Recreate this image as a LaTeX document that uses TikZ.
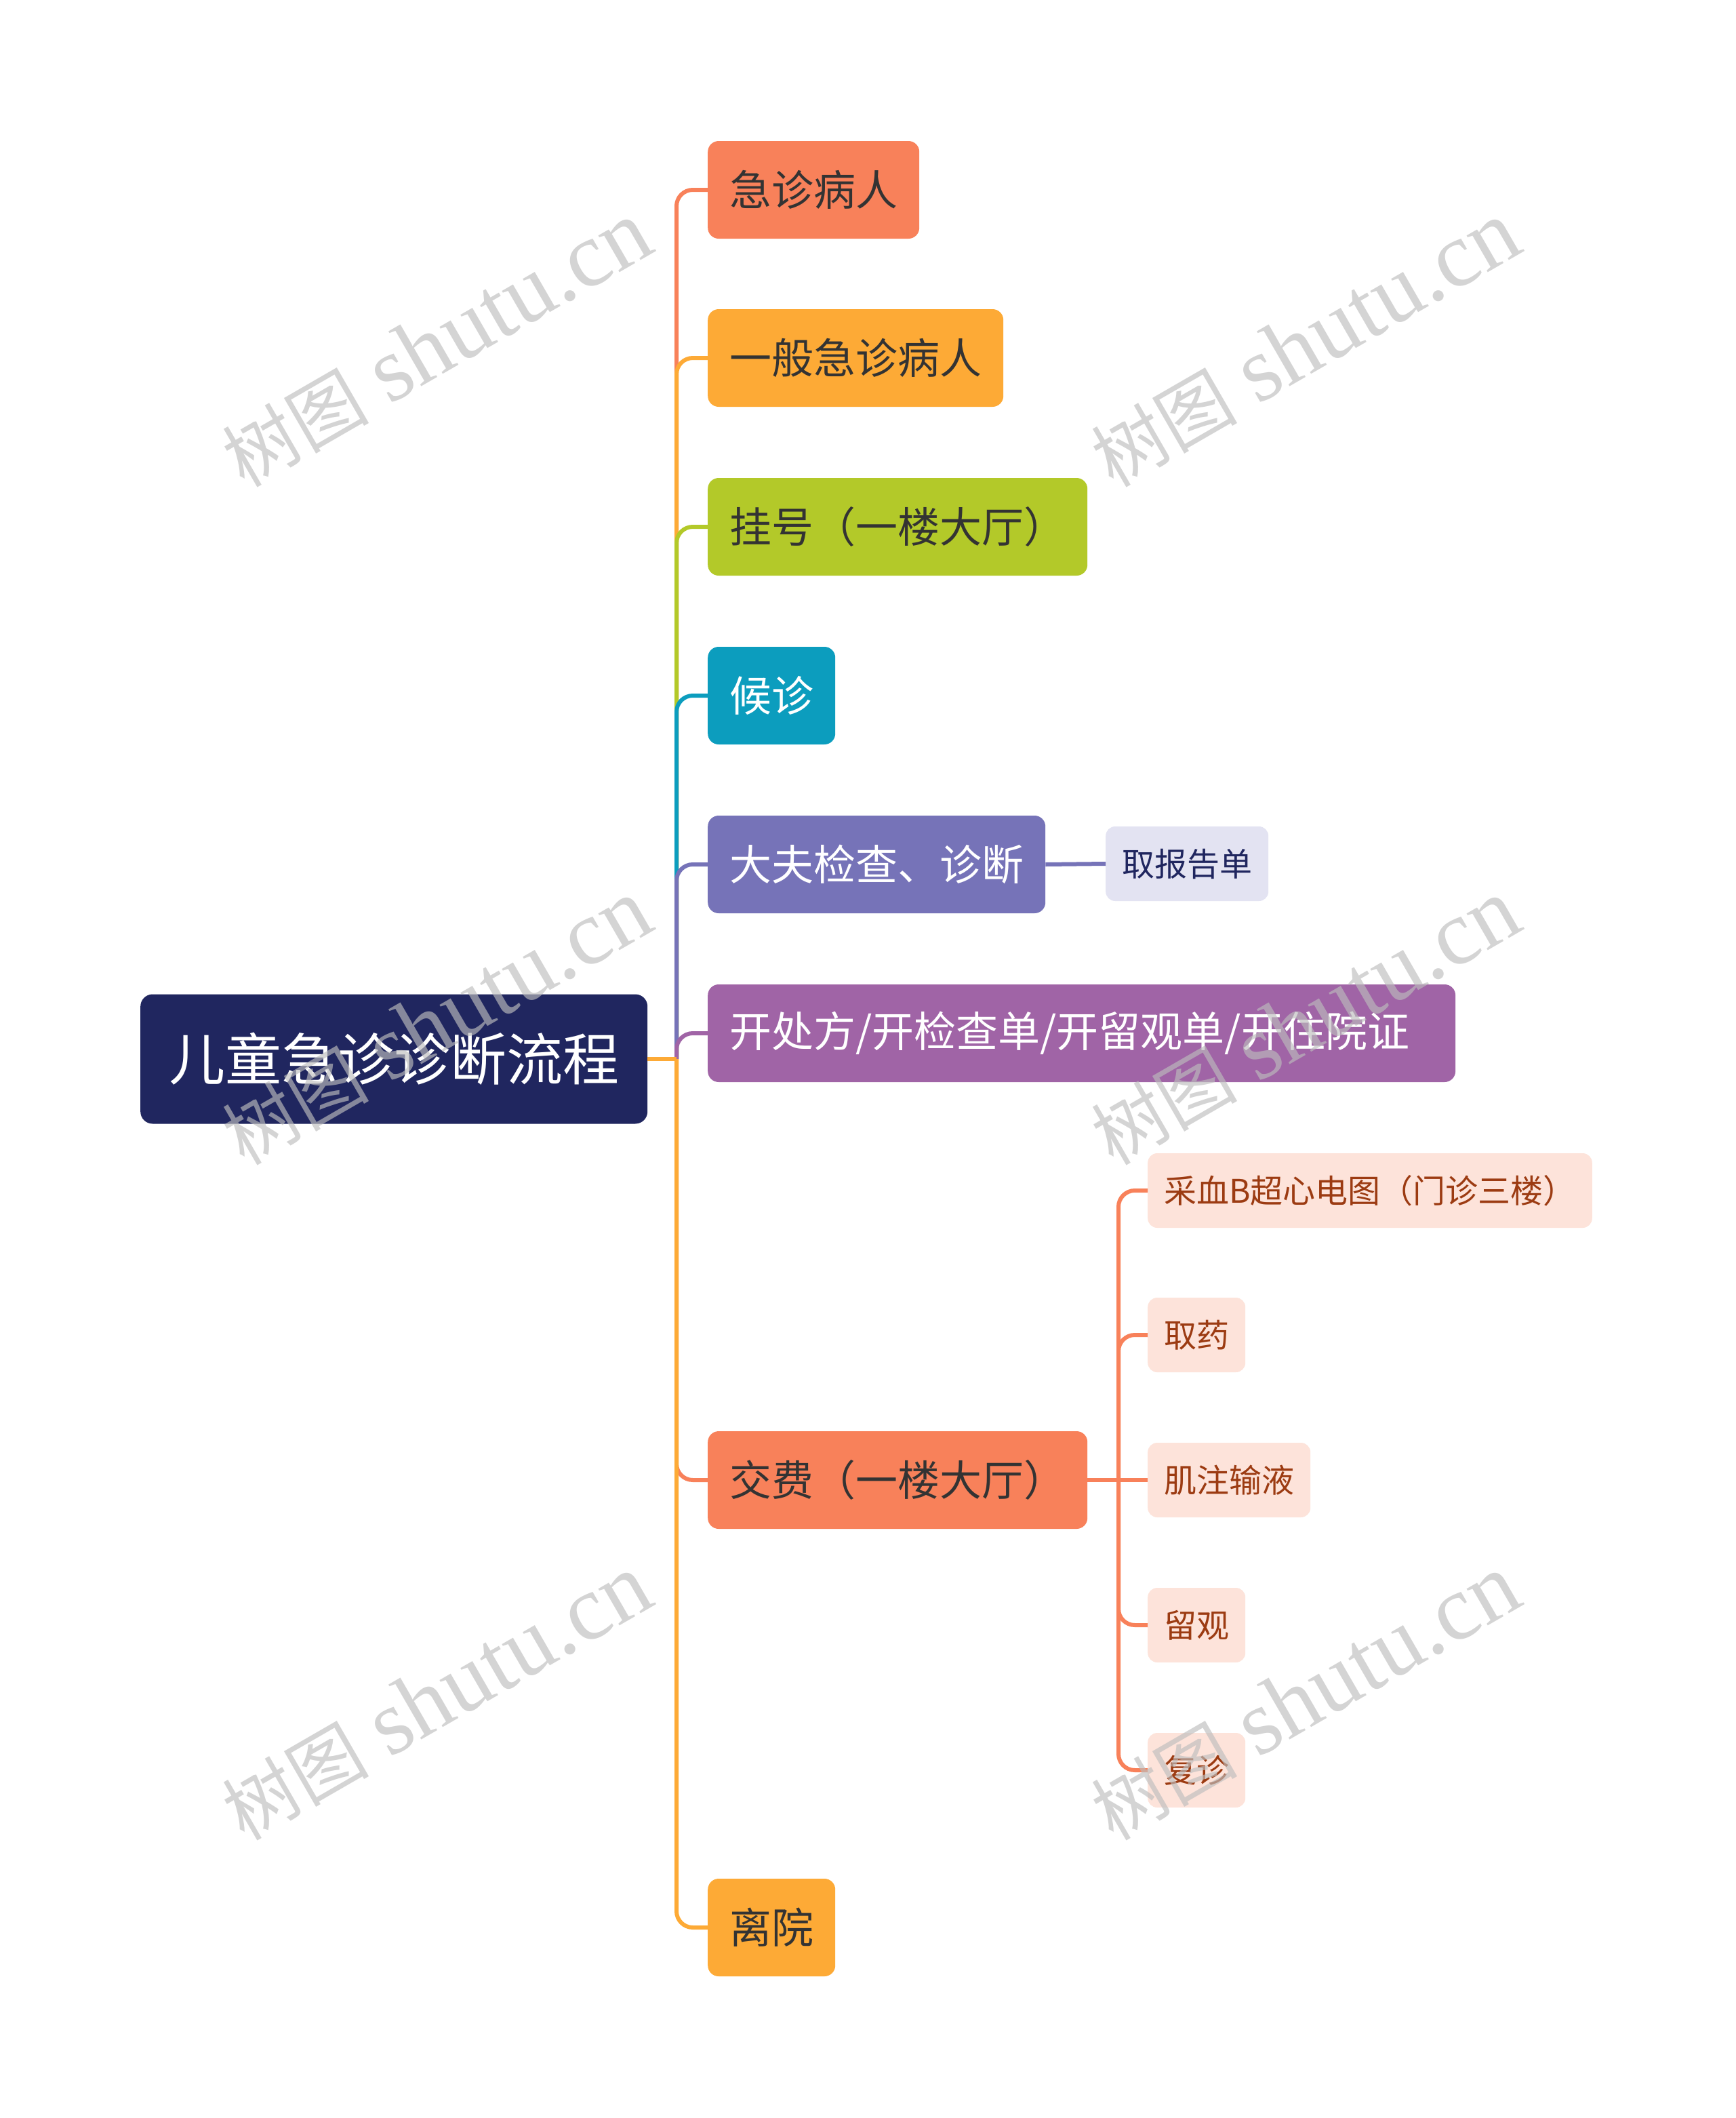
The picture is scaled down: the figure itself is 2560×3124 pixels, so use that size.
\documentclass[tikz,border=0pt]{standalone}
\usepackage{fontspec}
\setmainfont{Noto Sans CJK SC}
\newfontfamily\wmserif{Liberation Serif}
\definecolor{navy}{HTML}{20265F}
\definecolor{coral}{HTML}{F8815A}
\definecolor{amber}{HTML}{FDAA36}
\definecolor{lime}{HTML}{B3C929}
\definecolor{cteal}{HTML}{0C9DBE}
\definecolor{slate}{HTML}{7673B8}
\definecolor{plum}{HTML}{A064A6}
\definecolor{lilac}{HTML}{E3E3F2}
\definecolor{peach}{HTML}{FDE3DA}
\definecolor{rust}{HTML}{9C3B12}
\definecolor{ink}{HTML}{333333}
\definecolor{wmgray}{HTML}{BDBDBD}
\def\wm{{\fontsize{108}{108}\selectfont 树图}\hspace{30pt}{\wmserif\fontsize{136}{136}\selectfont shutu.cn}}

\begin{document}
\begin{tikzpicture}[x=1pt, y=-1pt,
    root/.style={rounded corners=18pt, fill=navy, text=white, anchor=west,
        font=\fontsize{83}{83}\selectfont, minimum height=191pt, inner xsep=42pt},
    topic/.style={rounded corners=16pt, text=ink, anchor=west,
        font=\fontsize{62}{62}\selectfont, minimum height=144pt, inner xsep=32pt},
    leaf/.style={rounded corners=14pt, fill=peach, text=rust, anchor=west,
        font=\fontsize{48}{48}\selectfont, minimum height=110pt, inner xsep=24pt},
    branch/.style={line width=6pt, rounded corners=24pt},
    wmark/.style={rotate=30, text=wmgray, opacity=0.65}]
    \fill[white] (0,0) rectangle (2560,3124);
    \useasboundingbox (0,0) rectangle (2560,3124);

    \node[root] (root) at (207,1562) {儿童急诊诊断流程};
    \node[topic, fill=coral] (n1) at (1044,280) {急诊病人};
    \node[topic, fill=amber] (n2) at (1044,528) {一般急诊病人};
    \node[topic, fill=lime] (n3) at (1044,777) {挂号（一楼大厅）};
    \node[topic, fill=cteal, text=white] (n4) at (1044,1026) {候诊};
    \node[topic, fill=slate, text=white] (n5) at (1044,1275) {大夫检查、诊断};
    \node[topic, fill=plum, text=white] (n6) at (1044,1524) {开处方/开检查单/开留观单/开住院证\hspace*{36pt}};
    \node[topic, fill=coral] (n7) at (1044,2183) {交费（一楼大厅）};
    \node[topic, fill=amber] (n8) at (1044,2843) {离院};

    \node[leaf, fill=lilac, text=navy] (r1) at (1631,1274) {取报告单};
    \node[leaf] (f1) at (1693,1756) {采血B超心电图（门诊三楼）};
    \node[leaf] (f2) at (1693,1969) {取药};
    \node[leaf] (f3) at (1693,2183) {肌注输液};
    \node[leaf] (f4) at (1693,2397) {留观};
    \node[leaf] (f5) at (1693,2611) {复诊};

    \coordinate (hub) at (998,1562);
    \coordinate (fhub) at (1650,2183);
    \foreach \n/\c in {n1/coral,n2/amber,n3/lime,n4/cteal,n5/slate,n6/plum,n7/coral,n8/amber}
        \draw[branch, \c] (hub) |- (\n.west);
    \draw[branch, amber] (root.east) -- (hub);
    \draw[branch, slate] (n5.east) -- (r1.west);
    \draw[branch, coral] (n7.east) -- (fhub) -- (f3.west);
    \foreach \n in {f1,f2,f4,f5}
        \draw[branch, coral] (fhub) |- (\n.west);

    \foreach \p [count=\i] in {(644,508),(1925,508),(644,1508),(1925,1508),(644,2504),(1925,2504)}
        \node[wmark] (w\i) at \p {\wm};
\end{tikzpicture}
\end{document}
